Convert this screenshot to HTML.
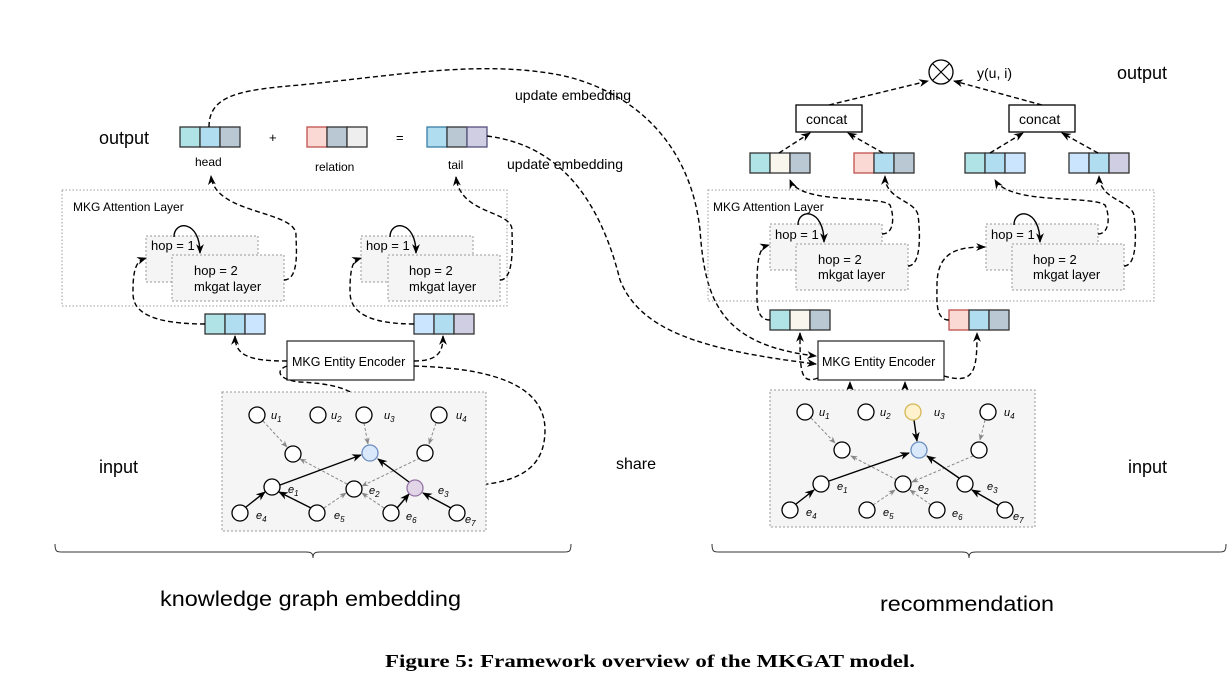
<!DOCTYPE html>
<html><head><meta charset="utf-8"><style>
body{margin:0;background:#fff}
svg{display:block}
text{font-family:"Liberation Sans",sans-serif;fill:#000}
.d{fill:none;stroke:#000;stroke-width:1.4;stroke-dasharray:5 3}
.g{fill:none;stroke:#888;stroke-width:1;stroke-dasharray:3 2}
.s{fill:none;stroke:#000;stroke-width:1.4}
.n{fill:#fff;stroke:#000;stroke-width:1.3}
.hop{fill:#f5f5f5;stroke:#999;stroke-width:1;stroke-dasharray:2 2}
</style></head><body>
<svg width="1231" height="676" viewBox="0 0 1231 676" xmlns="http://www.w3.org/2000/svg">
<defs>
<marker id="a" viewBox="0 0 10 10" refX="9" refY="5" markerWidth="7" markerHeight="7" orient="auto"><path d="M0,1 L10,5 L0,9 L3,5z" fill="#000"/></marker>
<marker id="ag" viewBox="0 0 10 10" refX="9" refY="5" markerWidth="7" markerHeight="7" orient="auto"><path d="M0,1 L10,5 L0,9 L3,5z" fill="#888"/></marker>
</defs>

<text x="99" y="144" font-size="18">output</text>
<g stroke="#333" stroke-width="1.3">
<rect x="180" y="127" width="20" height="20" fill="#b0e3e6"/><rect x="200" y="127" width="20" height="20" fill="#b1ddf0"/><rect x="220" y="127" width="20" height="20" fill="#bac8d3"/>
<rect x="307" y="127" width="20" height="20" fill="#fad9d5" stroke="#c0504d"/><rect x="327" y="127" width="20" height="20" fill="#bac8d3"/><rect x="347" y="127" width="20" height="20" fill="#eeeeee"/>
<rect x="427" y="127" width="20" height="20" fill="#b1ddf0" stroke="#3a7ca5"/><rect x="447" y="127" width="20" height="20" fill="#bac8d3"/><rect x="467" y="127" width="20" height="20" fill="#d0cee2" stroke="#56517e"/>
</g>
<text x="269" y="142" font-size="13">+</text>
<text x="396" y="142" font-size="13">=</text>
<text x="195" y="166" font-size="12">head</text>
<text x="315" y="171" font-size="12">relation</text>
<text x="448" y="169" font-size="12">tail</text>
<text x="515" y="100" font-size="14">update embedding</text>
<text x="507" y="169" font-size="14">update embedding</text>

<rect x="62" y="190" width="445" height="116" fill="none" stroke="#999" stroke-width="1" stroke-dasharray="1.5 2"/>
<text x="73" y="211" font-size="12">MKG Attention Layer</text>
<rect class="hop" x="146" y="236" width="112" height="46"/>
<rect class="hop" x="172" y="255" width="112" height="46"/>
<text x="151" y="250" font-size="13">hop = 1</text>
<text x="194" y="275" font-size="13">hop = 2</text>
<text x="194" y="291" font-size="13">mkgat layer</text>
<path class="s" d="M174,237 C174,220 200,220 200,253" marker-end="url(#a)"/>
<rect class="hop" x="361" y="236" width="112" height="46"/>
<rect class="hop" x="388" y="255" width="112" height="46"/>
<text x="366" y="250" font-size="13">hop = 1</text>
<text x="409" y="275" font-size="13">hop = 2</text>
<text x="409" y="291" font-size="13">mkgat layer</text>
<path class="s" d="M390,237 C390,220 416,220 416,253" marker-end="url(#a)"/>

<g stroke="#333" stroke-width="1.3">
<rect x="205" y="314" width="20" height="20" fill="#b0e3e6"/><rect x="225" y="314" width="20" height="20" fill="#b1ddf0"/><rect x="245" y="314" width="20" height="20" fill="#cce5ff"/>
<rect x="414" y="314" width="20" height="20" fill="#cce5ff"/><rect x="434" y="314" width="20" height="20" fill="#b1ddf0"/><rect x="454" y="314" width="20" height="20" fill="#d0cee2"/>
</g>
<rect x="287" y="341" width="127" height="39" fill="#fff" stroke="#333" stroke-width="1.3"/>
<text x="292" y="366" font-size="12.5">MKG Entity Encoder</text>

<path class="d" d="M209,127 C209,95 240,90 300,85 C400,75 480,60 560,75 C630,90 690,140 700,230 C705,300 720,345 816,356" marker-end="url(#a)"/>
<path class="d" d="M487,136 C560,145 600,200 620,280 C640,330 700,350 816,364" marker-end="url(#a)"/>
<path class="d" d="M284,280 C300,280 296,245 296,235 C296,210 215,215 211,176" marker-end="url(#a)"/>
<path class="d" d="M500,280 C515,280 512,240 512,230 C512,210 460,215 456,177" marker-end="url(#a)"/>
<path class="d" d="M205,324 C130,324 133,300 133,290 C133,262 140,260 146,258" marker-end="url(#a)"/>
<path class="d" d="M414,324 C350,324 350,300 350,290 C350,262 355,260 361,258" marker-end="url(#a)"/>
<path class="d" d="M287,361 C250,361 235,356 235,336" marker-end="url(#a)"/>
<path class="d" d="M414,361 C440,361 443,350 443,336" marker-end="url(#a)"/>
<path class="d" d="M287,366 C275,370 278,380 300,382 C360,385 372,400 372,445" marker-end="url(#a)"/>
<path class="d" d="M414,366 C480,368 545,380 545,430 C545,490 480,485 423,488"/>

<rect x="222" y="392" width="264" height="139" fill="#f5f5f5" stroke="#999" stroke-width="1" stroke-dasharray="2 2"/>
<g font-size="11" font-style="italic" fill="#000">
<text x="271" y="419">u<tspan font-size="8" dy="3">1</tspan></text>
<text x="331" y="419">u<tspan font-size="8" dy="3">2</tspan></text>
<text x="384" y="419">u<tspan font-size="8" dy="3">3</tspan></text>
<text x="456" y="419">u<tspan font-size="8" dy="3">4</tspan></text>
<text x="288" y="493">e<tspan font-size="8" dy="3">1</tspan></text>
<text x="369" y="494">e<tspan font-size="8" dy="3">2</tspan></text>
<text x="438" y="494">e<tspan font-size="8" dy="3">3</tspan></text>
<text x="256" y="519">e<tspan font-size="8" dy="3">4</tspan></text>
<text x="334" y="519">e<tspan font-size="8" dy="3">5</tspan></text>
<text x="406" y="520">e<tspan font-size="8" dy="3">6</tspan></text>
<text x="465" y="523">e<tspan font-size="8" dy="3">7</tspan></text>
</g>
<g>
<path class="g" d="M263,421 L287,447" marker-end="url(#ag)"/>
<path class="g" d="M364,423 L368,444" marker-end="url(#ag)"/>
<path class="g" d="M436,423 L429,444" marker-end="url(#ag)"/>
<path class="g" d="M347,484 L300,459" marker-end="url(#ag)"/>
<path class="g" d="M420,458 L362,486" marker-end="url(#ag)"/>
<path class="g" d="M324,508 L346,493" marker-end="url(#ag)"/>
<path class="g" d="M384,508 L362,493" marker-end="url(#ag)"/>
<path class="s" d="M280,485 L361,455" marker-end="url(#a)"/>
<path class="s" d="M409,482 L378,459" marker-end="url(#a)"/>
<path class="s" d="M246,507 L265,492" marker-end="url(#a)"/>
<path class="s" d="M311,508 L279,492" marker-end="url(#a)"/>
<path class="s" d="M397,508 L409,494" marker-end="url(#a)"/>
<path class="s" d="M451,508 L423,493" marker-end="url(#a)"/>
</g>
<g>
<circle class="n" cx="257" cy="415" r="8"/><circle class="n" cx="318" cy="415" r="8"/><circle class="n" cx="364" cy="415" r="8"/><circle class="n" cx="439" cy="415" r="8"/>
<circle class="n" cx="293" cy="454" r="8"/><circle cx="370" cy="453" r="8" fill="#dae8fc" stroke="#6c8ebf" stroke-width="1.3"/><circle class="n" cx="425" cy="453" r="8"/>
<circle class="n" cx="272" cy="487" r="8"/><circle class="n" cx="354" cy="489" r="8"/><circle cx="415" cy="488" r="8" fill="#e1d5e7" stroke="#9673a6" stroke-width="1.3"/>
<circle class="n" cx="240" cy="513" r="8"/><circle class="n" cx="317" cy="513" r="8"/><circle class="n" cx="391" cy="513" r="8"/><circle class="n" cx="457" cy="513" r="8"/>
</g>

<text x="99" y="473" font-size="18">input</text>
<text x="616" y="469" font-size="16">share</text>

<circle cx="941" cy="72" r="12" fill="#fff" stroke="#000" stroke-width="1.3"/>
<path d="M932.5,63.5 L949.5,80.5 M949.5,63.5 L932.5,80.5" stroke="#000" stroke-width="1.2"/>
<text x="977" y="78" font-size="14">y(u, i)</text>
<text x="1117" y="79" font-size="18">output</text>
<rect x="796" y="105" width="66" height="27" fill="#fff" stroke="#000" stroke-width="1.3"/>
<text x="806" y="124" font-size="14">concat</text>
<rect x="1009" y="105" width="66" height="27" fill="#fff" stroke="#000" stroke-width="1.3"/>
<text x="1019" y="124" font-size="14">concat</text>
<path class="d" d="M829,105 L928,81" marker-end="url(#a)"/>
<path class="d" d="M1042,105 L954,81" marker-end="url(#a)"/>
<g stroke="#333" stroke-width="1.3">
<rect x="750" y="153" width="20" height="20" fill="#b0e3e6"/><rect x="770" y="153" width="20" height="20" fill="#f9f7ed"/><rect x="790" y="153" width="20" height="20" fill="#bac8d3"/>
<rect x="854" y="153" width="20" height="20" fill="#fad9d5" stroke="#c0504d"/><rect x="874" y="153" width="20" height="20" fill="#b1ddf0"/><rect x="894" y="153" width="20" height="20" fill="#bac8d3"/>
<rect x="965" y="153" width="20" height="20" fill="#b0e3e6"/><rect x="985" y="153" width="20" height="20" fill="#b1ddf0"/><rect x="1005" y="153" width="20" height="20" fill="#cce5ff"/>
<rect x="1069" y="153" width="20" height="20" fill="#cce5ff"/><rect x="1089" y="153" width="20" height="20" fill="#b1ddf0"/><rect x="1109" y="153" width="20" height="20" fill="#d0cee2"/>
<rect x="770" y="310" width="20" height="20" fill="#b0e3e6"/><rect x="790" y="310" width="20" height="20" fill="#f9f7ed"/><rect x="810" y="310" width="20" height="20" fill="#bac8d3"/>
<rect x="949" y="310" width="20" height="20" fill="#fad9d5" stroke="#c0504d"/><rect x="969" y="310" width="20" height="20" fill="#b1ddf0"/><rect x="989" y="310" width="20" height="20" fill="#bac8d3"/>
</g>
<path class="d" d="M779,153 L810,133" marker-end="url(#a)"/>
<path class="d" d="M883,153 L848,133" marker-end="url(#a)"/>
<path class="d" d="M990,153 L1023,133" marker-end="url(#a)"/>
<path class="d" d="M1098,153 L1062,133" marker-end="url(#a)"/>

<rect x="708" y="190" width="446" height="111" fill="none" stroke="#999" stroke-width="1" stroke-dasharray="1.5 2"/>
<text x="713" y="211" font-size="12">MKG Attention Layer</text>
<rect class="hop" x="770" y="224" width="112" height="46"/>
<rect class="hop" x="796" y="244" width="112" height="46"/>
<text x="775" y="239" font-size="13">hop = 1</text>
<text x="818" y="264" font-size="13">hop = 2</text>
<text x="818" y="279" font-size="13">mkgat layer</text>
<path class="s" d="M798,225 C798,208 824,208 824,242" marker-end="url(#a)"/>
<rect class="hop" x="986" y="224" width="112" height="46"/>
<rect class="hop" x="1012" y="244" width="112" height="46"/>
<text x="991" y="239" font-size="13">hop = 1</text>
<text x="1033" y="264" font-size="13">hop = 2</text>
<text x="1033" y="279" font-size="13">mkgat layer</text>
<path class="s" d="M1014,225 C1014,208 1040,208 1040,242" marker-end="url(#a)"/>

<path class="d" d="M882,234 C895,234 894,215 890,205 C880,195 800,205 790,180" marker-end="url(#a)"/>
<path class="d" d="M908,266 C922,266 920,230 918,215 C915,200 885,200 885,176" marker-end="url(#a)"/>
<path class="d" d="M1098,234 C1110,234 1110,215 1105,205 C1090,195 1010,205 995,180" marker-end="url(#a)"/>
<path class="d" d="M1124,266 C1138,266 1136,230 1134,215 C1130,200 1100,200 1099,176" marker-end="url(#a)"/>
<path class="d" d="M770,320 C755,320 757,300 757,285 C757,250 762,247 769,245" marker-end="url(#a)"/>
<path class="d" d="M949,320 C935,320 937,300 937,285 C937,250 960,247 985,247" marker-end="url(#a)"/>

<rect x="818" y="341" width="126" height="39" fill="#fff" stroke="#333" stroke-width="1.3"/>
<text x="822" y="366" font-size="12.5">MKG Entity Encoder</text>
<path class="d" d="M818,378 C800,385 800,370 800,333" marker-end="url(#a)"/>
<path class="d" d="M944,376 C975,385 977,370 977,333" marker-end="url(#a)"/>
<path class="d" d="M905,410 C895,395 860,390 850,393 L850,382" marker-end="url(#a)"/>
<path class="d" d="M925,442 C935,430 935,410 920,400 C910,390 905,392 905,382" marker-end="url(#a)"/>

<rect x="770" y="390" width="265" height="137" fill="#f5f5f5" stroke="#999" stroke-width="1" stroke-dasharray="2 2"/>
<g font-size="11" font-style="italic">
<text x="819" y="416">u<tspan font-size="8" dy="3">1</tspan></text>
<text x="880" y="416">u<tspan font-size="8" dy="3">2</tspan></text>
<text x="934" y="416">u<tspan font-size="8" dy="3">3</tspan></text>
<text x="1004" y="416">u<tspan font-size="8" dy="3">4</tspan></text>
<text x="837" y="490">e<tspan font-size="8" dy="3">1</tspan></text>
<text x="918" y="491">e<tspan font-size="8" dy="3">2</tspan></text>
<text x="987" y="490">e<tspan font-size="8" dy="3">3</tspan></text>
<text x="806" y="516">e<tspan font-size="8" dy="3">4</tspan></text>
<text x="883" y="516">e<tspan font-size="8" dy="3">5</tspan></text>
<text x="952" y="517">e<tspan font-size="8" dy="3">6</tspan></text>
<text x="1013" y="520">e<tspan font-size="8" dy="3">7</tspan></text>
</g>
<path class="g" d="M811,418 L835,443" marker-end="url(#ag)"/>
<path class="g" d="M985,420 L980,440" marker-end="url(#ag)"/>
<path class="g" d="M897,480 L851,456" marker-end="url(#ag)"/>
<path class="g" d="M973,456 L912,482" marker-end="url(#ag)"/>
<path class="g" d="M873,505 L895,490" marker-end="url(#ag)"/>
<path class="g" d="M931,505 L910,490" marker-end="url(#ag)"/>
<path class="s" d="M829,481 L909,453" marker-end="url(#a)"/>
<path class="s" d="M959,478 L927,456" marker-end="url(#a)"/>
<path class="s" d="M796,504 L814,490" marker-end="url(#a)"/>
<path class="s" d="M998,505 L972,490" marker-end="url(#a)"/>
<path class="s" d="M914,420 L917,441" marker-end="url(#a)"/>
<circle class="n" cx="805" cy="412" r="8"/><circle class="n" cx="866" cy="412" r="8"/><circle cx="913" cy="412" r="8" fill="#fff2cc" stroke="#d6b656" stroke-width="1.3"/><circle class="n" cx="988" cy="412" r="8"/>
<circle class="n" cx="842" cy="450" r="8"/><circle cx="919" cy="450" r="8" fill="#dae8fc" stroke="#6c8ebf" stroke-width="1.3"/><circle class="n" cx="979" cy="450" r="8"/>
<circle class="n" cx="821" cy="484" r="8"/><circle class="n" cx="903" cy="484" r="8"/><circle class="n" cx="965" cy="484" r="8"/>
<circle class="n" cx="790" cy="510" r="8"/><circle class="n" cx="867" cy="510" r="8"/><circle class="n" cx="937" cy="510" r="8"/><circle class="n" cx="1005" cy="510" r="8"/>

<text x="1128" y="473" font-size="18">input</text>

<path d="M55,544 C55,552 57,552 62,552 L306,552 C311,552 313,553 313,558 C313,553 315,552 320,552 L564,552 C569,552 571,552 571,544" fill="none" stroke="#333" stroke-width="1"/>
<path d="M712,544 C712,552 714,552 719,552 L962,552 C967,552 969,553 969,558 C969,553 971,552 976,552 L1219,552 C1224,552 1226,552 1226,544" fill="none" stroke="#333" stroke-width="1"/>
<text x="160" y="606" font-size="21" textLength="301" lengthAdjust="spacingAndGlyphs">knowledge graph embedding</text>
<text x="880" y="611" font-size="21" textLength="174" lengthAdjust="spacingAndGlyphs">recommendation</text>
<text x="385" y="667" font-size="18" font-weight="bold" style="font-family:'Liberation Serif',serif" textLength="530" lengthAdjust="spacingAndGlyphs">Figure 5: Framework overview of the MKGAT model.</text>
</svg>
</body></html>
